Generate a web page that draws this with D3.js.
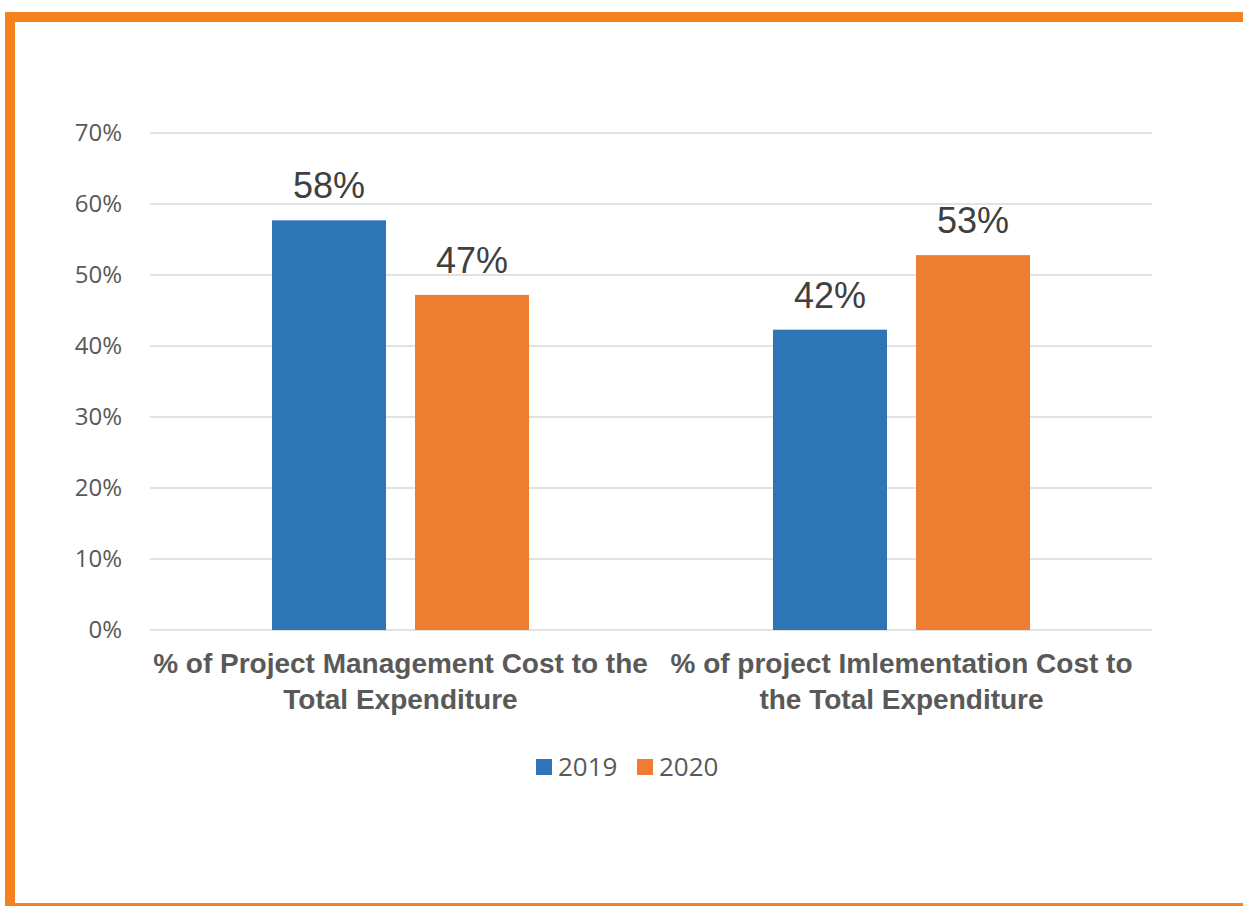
<!DOCTYPE html>
<html>
<head>
<meta charset="utf-8">
<script src="https://cdn.jsdelivr.net/npm/d3@7"></script>
<style>
  html, body { margin: 0; padding: 0; background: #fff; }
  svg { display: block; }
</style>
</head>
<body>
<svg id="chart" width="1243" height="906"></svg>
<script>
// Share of total expenditure, by cost type and year
const categories = [
  ["% of Project Management Cost to the", "Total Expenditure"],
  ["% of project Imlementation Cost to", "the Total Expenditure"]
];
const years = ["2019", "2020"];
const values2019 = [0.577, 0.423];
const values2020 = [0.472, 0.528];
const yTicks = [0, 0.1, 0.2, 0.3, 0.4, 0.5, 0.6, 0.7];
const colors = ["#2E75B6", "#ED7D31"];

const svg = d3.select("#chart");
const W = 1243;

// frame
svg.append("rect")
  .attr("x", 10).attr("y", 17)
  .attr("width", W + 20).attr("height", 891)
  .attr("fill", "#fff")
  .attr("stroke", "#F5821F").attr("stroke-width", 10);

const plot = { left: 150, right: 1152, top: 133, bottom: 630 };
const clusterWidth = 257;

const x0 = d3.scaleBand()
  .domain(d3.range(categories.length))
  .range([plot.left, plot.right]);

const x1 = d3.scaleBand()
  .domain(years)
  .range([0, clusterWidth])
  .paddingInner(0.203);

const y = d3.scaleLinear().domain([0, 0.7]).range([plot.bottom, plot.top]);

// gridlines
svg.append("g")
  .selectAll("line")
  .data(yTicks)
  .join("line")
  .attr("x1", plot.left).attr("x2", plot.right)
  .attr("y1", d => y(d)).attr("y2", d => y(d))
  .attr("stroke", "#D9D9D9").attr("stroke-width", 1.3);

// y axis labels
const yAxis = d3.axisLeft(y)
  .tickValues(yTicks)
  .tickFormat(d3.format(".0%"))
  .tickSize(0)
  .tickPadding(28);
const yg = svg.append("g").attr("transform", `translate(${plot.left},0)`).call(yAxis);
yg.select(".domain").remove();
yg.selectAll("text")
  .attr("font-family", "'Open Sans', sans-serif")
  .attr("font-size", 24)
  .attr("fill", "#595959");

// bars
const rows = categories.map((c, i) => ({ i, vals: [values2019[i], values2020[i]] }));
const groups = svg.append("g").selectAll("g")
  .data(rows)
  .join("g")
  .attr("transform", d => `translate(${x0(d.i) + (x0.bandwidth() - clusterWidth) / 2},0)`);

groups.selectAll("rect")
  .data(d => d.vals.map((v, k) => ({ v, k })))
  .join("rect")
  .attr("x", d => x1(years[d.k]))
  .attr("width", x1.bandwidth())
  .attr("y", d => y(d.v))
  .attr("height", d => y(0) - y(d.v))
  .attr("fill", d => colors[d.k]);

groups.selectAll("text.val")
  .data(d => d.vals.map((v, k) => ({ v, k })))
  .join("text")
  .attr("class", "val")
  .attr("x", d => x1(years[d.k]) + x1.bandwidth() / 2)
  .attr("y", d => y(d.v) - 22)
  .attr("text-anchor", "middle")
  .attr("font-family", "'Liberation Sans', Arial, sans-serif")
  .attr("font-size", 36)
  .attr("fill", "#404040")
  .text(d => d3.format(".0%")(d.v));

// category labels
const catG = svg.append("g").selectAll("text")
  .data(categories)
  .join("text")
  .attr("x", (d, i) => x0(i) + x0.bandwidth() / 2)
  .attr("y", 673)
  .attr("text-anchor", "middle")
  .attr("font-family", "'Liberation Sans', Arial, sans-serif")
  .attr("font-weight", "bold")
  .attr("font-size", 28)
  .attr("fill", "#595959");
catG.selectAll("tspan")
  .data(d => d)
  .join("tspan")
  .attr("x", function () { return this.parentNode.getAttribute("x"); })
  .attr("dy", (d, j) => j === 0 ? 0 : 36)
  .text(d => d);

// legend
const legend = svg.append("g").attr("transform", "translate(536,767)");
const items = legend.selectAll("g")
  .data(years)
  .join("g")
  .attr("transform", (d, i) => `translate(${i * 101},0)`);
items.append("rect")
  .attr("x", 0).attr("y", -8)
  .attr("width", 16).attr("height", 16)
  .attr("fill", (d, i) => colors[i]);
items.append("text")
  .attr("x", 22).attr("y", 9)
  .attr("font-family", "'Open Sans', sans-serif")
  .attr("font-size", 26)
  .attr("fill", "#595959")
  .text(d => d);
</script>
</body>
</html>
